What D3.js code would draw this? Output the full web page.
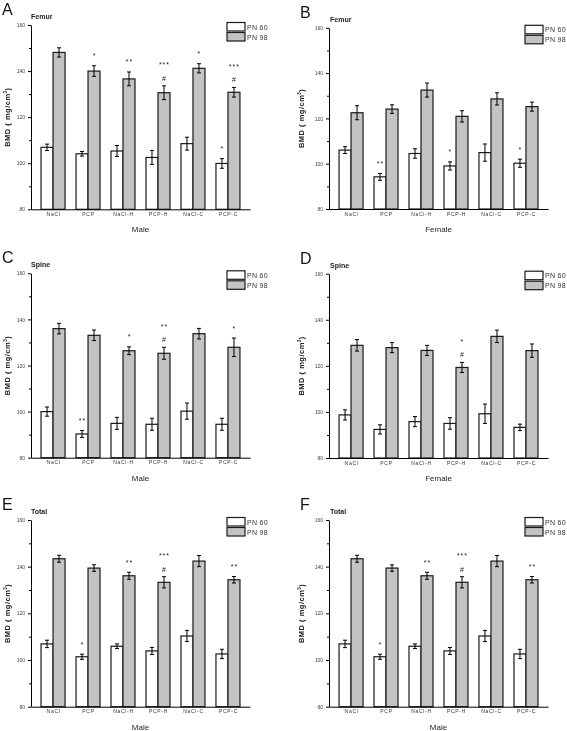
<!DOCTYPE html>
<html><head><meta charset="utf-8">
<script src="https://cdn.jsdelivr.net/npm/d3@7/dist/d3.min.js"></script>
<style>
body{margin:0;background:#fff}
svg{display:block;filter:grayscale(1)}
text{font-family:"Liberation Sans",Arial,sans-serif}
</style>
</head><body>
<svg id="chart" width="567" height="731"></svg>
<script>
// ---------- data ----------
const categories = ["NaCl", "PCP", "NaCl-H", "PCP-H", "NaCl-C", "PCP-C"];
const seriesNames = ["PN 60", "PN 98"];
const yTicks = [80, 100, 120, 140, 160];
const yMinorTicks = [90, 110, 130, 150];
const yLabel = "BMD ( mg/cm";

// A: Femur, male
const femurMale60 = [106.9, 104.1, 105.3, 102.5, 108.5, 99.9];
const femurMale60Err = [1.4, 1.0, 2.4, 3.0, 2.8, 2.1];
const femurMale98 = [148.1, 140.0, 136.6, 130.6, 141.2, 130.8];
const femurMale98Err = [2.0, 2.3, 3.0, 3.0, 2.0, 2.1];
const femurMale60Sig = ["", "", "", "", "", "*"];
const femurMale98Sig = ["", "*", "**", "***|#", "*", "***|#"];

// B: Femur, female
const femurFemale60 = [106.0, 94.2, 104.5, 99.0, 104.9, 100.2];
const femurFemale60Err = [1.5, 1.5, 2.1, 1.8, 3.8, 1.8];
const femurFemale98 = [122.5, 124.1, 132.5, 120.9, 128.6, 125.2];
const femurFemale98Err = [3.1, 1.9, 3.1, 2.5, 2.7, 2.0];
const femurFemale60Sig = ["", "**", "", "*", "", "*"];
const femurFemale98Sig = ["", "", "", "", "", ""];

// C: Spine, male
const spineMale60 = [100.0, 90.3, 94.9, 94.5, 100.2, 94.5];
const spineMale60Err = [2.0, 1.5, 2.6, 2.6, 3.5, 2.6];
const spineMale98 = [136.0, 133.1, 126.4, 125.3, 133.8, 127.9];
const spineMale98Err = [2.3, 2.3, 1.7, 2.6, 2.3, 4.0];
const spineMale60Sig = ["", "**", "", "", "", ""];
const spineMale98Sig = ["", "", "*", "**|#", "", "*"];

// D: Spine, female
const spineFemale60 = [98.7, 92.4, 95.8, 95.0, 99.2, 93.3];
const spineFemale60Err = [2.2, 2.0, 2.2, 2.5, 4.2, 1.4];
const spineFemale98 = [128.9, 127.9, 126.7, 119.3, 132.8, 126.6];
const spineFemale98Err = [2.5, 2.2, 2.2, 2.2, 2.7, 2.9];
const spineFemale60Sig = ["", "", "", "", "", ""];
const spineFemale98Sig = ["", "", "", "*|#", "", ""];

// E / F: Total, male
const totalMale60 = [106.9, 101.4, 105.9, 103.9, 110.3, 102.6];
const totalMale60Err = [1.6, 1.1, 1.0, 1.5, 2.4, 2.0];
const totalMale98 = [143.4, 139.4, 136.1, 133.3, 142.4, 134.4];
const totalMale98Err = [1.5, 1.4, 1.5, 2.4, 2.4, 1.4];
const totalMale60Sig = ["", "*", "", "", "", ""];
const totalMale98Sig = ["", "", "**", "***|#", "", "**"];

const panelData = [
  {letter: "A", title: "Femur", group: "Male", v60: femurMale60, e60: femurMale60Err, v98: femurMale98, e98: femurMale98Err, s60: femurMale60Sig, s98: femurMale98Sig},
  {letter: "B", title: "Femur", group: "Female", v60: femurFemale60, e60: femurFemale60Err, v98: femurFemale98, e98: femurFemale98Err, s60: femurFemale60Sig, s98: femurFemale98Sig},
  {letter: "C", title: "Spine", group: "Male", v60: spineMale60, e60: spineMale60Err, v98: spineMale98, e98: spineMale98Err, s60: spineMale60Sig, s98: spineMale98Sig},
  {letter: "D", title: "Spine", group: "Female", v60: spineFemale60, e60: spineFemale60Err, v98: spineFemale98, e98: spineFemale98Err, s60: spineFemale60Sig, s98: spineFemale98Sig},
  {letter: "E", title: "Total", group: "Male", v60: totalMale60, e60: totalMale60Err, v98: totalMale98, e98: totalMale98Err, s60: totalMale60Sig, s98: totalMale98Sig},
  {letter: "F", title: "Total", group: "Male", v60: totalMale60, e60: totalMale60Err, v98: totalMale98, e98: totalMale98Err, s60: totalMale60Sig, s98: totalMale98Sig}
];

// ---------- layout ----------
const layouts = [
  {x0: 31, x1: 250, yTop: 25, yBot: 209.3, titleDx: 24},
  {x0: 329, x1: 548, yTop: 27.8, yBot: 209, titleDx: 28},
  {x0: 31, x1: 250, yTop: 273.3, yBot: 457.7, titleDx: 24},
  {x0: 329, x1: 548, yTop: 273.7, yBot: 458, titleDx: 28},
  {x0: 31, x1: 250, yTop: 520, yBot: 706.7, titleDx: 24},
  {x0: 329, x1: 548, yTop: 520, yBot: 706.7, titleDx: 28}
];
const fills = {"PN 60": "#ffffff", "PN 98": "#c3c3c3"};
const stroke = "#1a1a1a";

const svg = d3.select("#chart");

panelData.forEach((pd, i) => {
  const L = layouts[i];
  const g = svg.append("g");
  const x = d3.scalePoint().domain(categories).range([L.x0, L.x1]).padding(0.63);
  const xs = d3.scaleBand().domain(seriesNames).range([-12, 12]).padding(0);
  const y = d3.scaleLinear().domain([80, 160]).range([L.yBot, L.yTop]);

  // panel letter
  g.append("text").attr("x", L.x0 - 29).attr("y", L.yTop - 10)
    .attr("font-size", 16).attr("fill", "#111").text(pd.letter);
  // subtitle
  g.append("text").attr("x", L.x0 + (i % 2 ? 1 : 0)).attr("y", L.yTop - 6)
    .attr("font-size", 7).attr("font-weight", "bold").attr("fill", "#222").text(pd.title);

  // bars
  const rows = [];
  categories.forEach((c, k) => {
    rows.push({cat: c, s: "PN 60", v: pd.v60[k], e: pd.e60[k], sig: pd.s60[k]});
    rows.push({cat: c, s: "PN 98", v: pd.v98[k], e: pd.e98[k], sig: pd.s98[k]});
  });
  g.selectAll("rect.bar").data(rows).join("rect").attr("class", "bar")
    .attr("x", d => x(d.cat) + xs(d.s))
    .attr("width", xs.bandwidth())
    .attr("y", d => y(d.v))
    .attr("height", d => y(80) - y(d.v))
    .attr("fill", d => fills[d.s])
    .attr("stroke", stroke).attr("stroke-width", 1.2);

  // error bars
  const eb = g.selectAll("g.err").data(rows).join("g").attr("class", "err")
    .attr("stroke", "#000").attr("stroke-width", 1);
  eb.append("line")
    .attr("x1", d => x(d.cat) + xs(d.s) + xs.bandwidth() / 2)
    .attr("x2", d => x(d.cat) + xs(d.s) + xs.bandwidth() / 2)
    .attr("y1", d => y(d.v - d.e)).attr("y2", d => y(d.v + d.e));
  [-1, 1].forEach(sgn => {
    eb.append("line")
      .attr("x1", d => x(d.cat) + xs(d.s) + xs.bandwidth() / 2 - 2)
      .attr("x2", d => x(d.cat) + xs(d.s) + xs.bandwidth() / 2 + 2)
      .attr("y1", d => y(d.v + sgn * d.e)).attr("y2", d => y(d.v + sgn * d.e));
  });

  // significance marks
  rows.filter(d => d.sig).forEach(d => {
    const cx = x(d.cat) + xs(d.s) + xs.bandwidth() / 2;
    const top = y(d.v + d.e);
    const parts = d.sig.split("|");
    if (parts.length === 2) {
      g.append("text").attr("x", cx).attr("y", top - 5).attr("text-anchor", "middle")
        .attr("font-size", 7).attr("fill", "#222").text(parts[1]);
      g.append("text").attr("x", cx + 0.5).attr("y", top - 18.5).attr("text-anchor", "middle")
        .attr("font-size", 7).attr("letter-spacing", 1).attr("fill", "#222").text(parts[0]);
    } else {
      g.append("text").attr("x", cx + 0.5).attr("y", top - 7.5).attr("text-anchor", "middle")
        .attr("font-size", 7).attr("letter-spacing", 1).attr("fill", "#222").text(parts[0]);
    }
  });

  // y axis
  const ya = g.append("g").attr("transform", `translate(${L.x0},0)`)
    .call(d3.axisLeft(y).tickValues(yTicks).tickSize(3).tickSizeOuter(0).tickPadding(3));
  ya.select(".domain").attr("stroke", "#000").attr("stroke-width", 1);
  ya.selectAll(".tick line").attr("stroke", "#000");
  ya.selectAll(".tick text").attr("font-size", 5).attr("fill", "#444")
    .attr("font-family", "'Liberation Sans', Arial, sans-serif");
  const ym = g.append("g").attr("transform", `translate(${L.x0},0)`)
    .call(d3.axisLeft(y).tickValues(yMinorTicks).tickSize(2).tickFormat(""));
  ym.select(".domain").remove();
  ym.selectAll(".tick line").attr("stroke", "#000");

  // x axis
  const xa = g.append("g").attr("transform", `translate(0,${L.yBot})`)
    .call(d3.axisBottom(x).tickSize(0).tickSizeOuter(0).tickPadding(3));
  xa.select(".domain").attr("stroke", "#000").attr("stroke-width", 1);
  xa.selectAll(".tick text").attr("font-size", 5).attr("letter-spacing", 0.7).attr("fill", "#333")
    .attr("font-family", "'Liberation Sans', Arial, sans-serif");

  // x title
  g.append("text").attr("x", (L.x0 + L.x1) / 2).attr("y", L.yBot + 23).attr("text-anchor", "middle")
    .attr("font-size", 8).attr("fill", "#222").text(pd.group);

  // y title
  const yt = g.append("text")
    .attr("transform", `translate(${L.x0 - L.titleDx + 3},${(L.yTop + L.yBot) / 2}) rotate(-90)`)
    .attr("text-anchor", "middle").attr("font-size", 7.5).attr("font-weight", "bold")
    .attr("letter-spacing", 0.5).attr("fill", "#222");
  yt.append("tspan").text(yLabel);
  yt.append("tspan").attr("font-size", 4.5).attr("dy", -3).text("3");
  yt.append("tspan").attr("dy", 3).text(")");

  // legend
  const lg = g.append("g").attr("transform", `translate(${L.x0 + 196},${L.yTop - 2.5})`);
  seriesNames.forEach((s, k) => {
    lg.append("rect").attr("x", 0).attr("y", k * 10).attr("width", 18).attr("height", 8.5)
      .attr("fill", fills[s]).attr("stroke", stroke).attr("stroke-width", 1.2);
    lg.append("text").attr("x", 20).attr("y", k * 10 + 7).attr("font-size", 7)
      .attr("letter-spacing", 0.3).attr("fill", "#333").text(s);
  });
});
</script>
</body></html>
